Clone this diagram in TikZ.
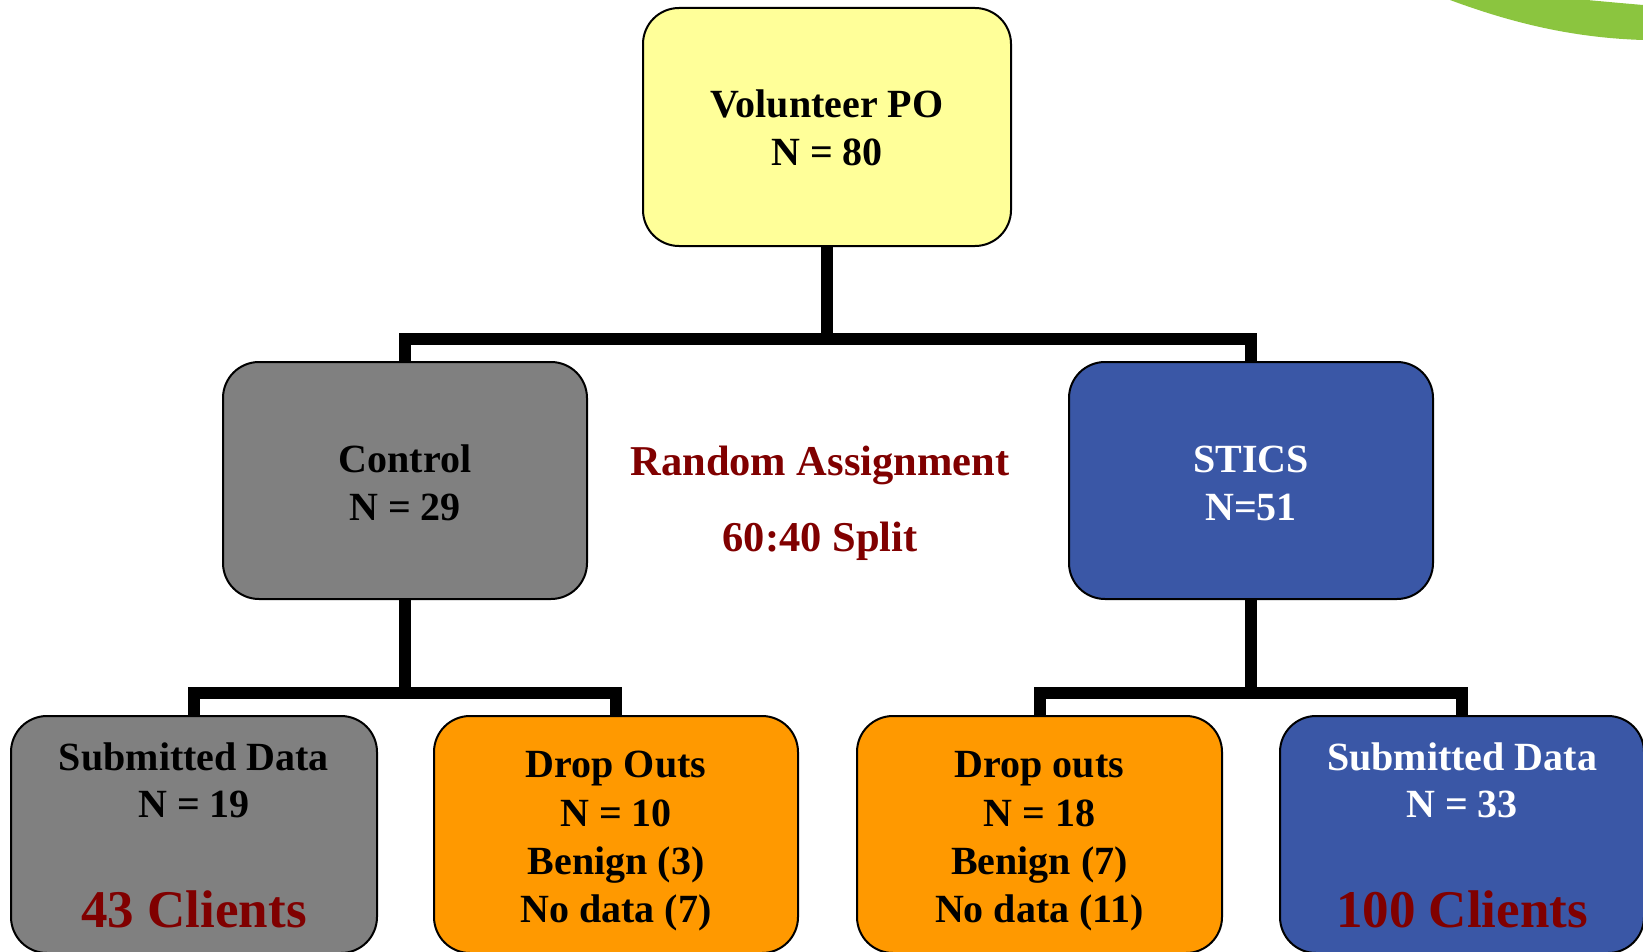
\documentclass[tikz,border=0pt]{standalone}
\usepackage{fontspec}
\setmainfont{Liberation Serif}
\definecolor{boxgray}{HTML}{808080}
\definecolor{boxyellow}{HTML}{FFFF99}
\definecolor{boxblue}{HTML}{3A57A6}
\definecolor{boxorange}{HTML}{FF9900}
\definecolor{darkred}{HTML}{800000}
\definecolor{leafgreen}{HTML}{8BC53F}
\newcommand\txtA{\fontsize{40}{47}\selectfont\bfseries}
\newcommand\txtB{\fontsize{42.5}{49}\selectfont\bfseries}
\newcommand\txtC{\fontsize{53}{60}\selectfont\bfseries}
\tikzset{
  box/.style={draw=black, line width=2pt, rounded corners=36pt, minimum height=237pt, minimum width=364pt, inner sep=0pt},
  lbl/.style={anchor=base, inner sep=0pt, font=\txtA},
  link/.style={line width=12pt, line join=miter, line cap=butt}
}
\begin{document}
\begin{tikzpicture}[x=1pt,y=-1pt]
\useasboundingbox (0,0) rectangle (1643,952);
\clip (0,0) rectangle (1643,952);
% green arc at top right
\fill[leafgreen] (1450,0) .. controls (1520,26) and (1580,38) .. (1643,40) -- (1643,5) .. controls (1620,3) .. (1587,0) -- cycle;
% boxes
\node[box, fill=boxyellow, minimum width=368pt, minimum height=238pt] (top) at (827,127) {};
\node[box, fill=boxgray] (ctrl) at (405,480.5) {};
\node[box, fill=boxblue] (stics) at (1251,480.5) {};
\node[box, fill=boxgray, minimum width=366pt] (sub1) at (194,834.5) {};
\node[box, fill=boxorange] (drop1) at (616,834.5) {};
\node[box, fill=boxorange, minimum width=365pt] (drop2) at (1039.5,834.5) {};
\node[box, fill=boxblue] (sub2) at (1462,834.5) {};
% connector junctions
\coordinate (bartop) at (827,339);
\coordinate (barl) at (405,693);
\coordinate (barr) at (1251,693);
% connectors
\draw[link] (top.south) -- (bartop);
\draw[link] (ctrl.north) |- (bartop) -| (stics.north);
\draw[link] (ctrl.south) -- (barl);
\draw[link] (sub1.north) |- (barl) -| (drop1.north);
\draw[link] (stics.south) -- (barr);
\draw[link] (drop2.north) |- (barr) -| (sub2.north);
% texts
\node[lbl] (t1) at (827,118) {Volunteer PO};
\node[lbl] (t2) at (827,166) {N = 80};
\node[lbl] (c1) at (405,472) {Control};
\node[lbl] (c2) at (405,520) {N = 29};
\node[lbl, text=white] (s1) at (1251,472) {STICS};
\node[lbl, text=white] (s2) at (1251,520) {N=51};
\node[lbl, font=\txtB, text=darkred] (r1) at (820,475) {Random Assignment};
\node[lbl, font=\txtB, text=darkred] (r2) at (820,551) {60:40 Split};
\node[lbl] (a1) at (194,770) {Submitted Data};
\node[lbl] (a2) at (194,817) {N = 19};
\node[lbl, font=\txtC, text=darkred] (a3) at (194,927) {43 Clients};
\node[lbl] (b1) at (616,777) {Drop Outs};
\node[lbl] (b2) at (616,826) {N = 10};
\node[lbl] (b3) at (616,874) {Benign (3)};
\node[lbl] (b4) at (616,922) {No data (7)};
\node[lbl] (d1) at (1039.5,777) {Drop outs};
\node[lbl] (d2) at (1039.5,826) {N = 18};
\node[lbl] (d3) at (1039.5,874) {Benign (7)};
\node[lbl] (d4) at (1039.5,922) {No data (11)};
\node[lbl, text=white] (e1) at (1462,770) {Submitted Data};
\node[lbl, text=white] (e2) at (1462,817) {N = 33};
\node[lbl, font=\txtC, text=darkred] (e3) at (1462,927) {100 Clients};
\end{tikzpicture}
\end{document}
